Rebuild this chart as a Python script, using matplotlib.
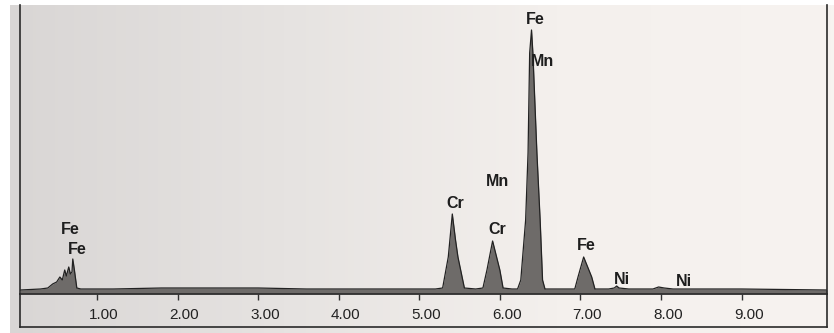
import matplotlib.pyplot as plt
import matplotlib.transforms as mtransforms
from matplotlib.lines import Line2D
from matplotlib.colors import LinearSegmentedColormap
import numpy as np

# spectrum: energy (keV) and height (counts, arbitrary)
energy = [0.05, 0.30, 0.39, 0.45, 0.50, 0.54, 0.57, 0.60, 0.62, 0.65, 0.67, 0.69, 0.70, 0.72, 0.75, 0.80,
          1.20, 1.80, 2.40, 3.00, 3.60, 4.20, 4.80, 5.20,
          5.29, 5.36, 5.38, 5.41, 5.45, 5.48, 5.56, 5.70,
          5.79, 5.84, 5.91, 6.00, 6.04, 6.15,
          6.22, 6.26, 6.32, 6.35, 6.37, 6.393, 6.41, 6.46, 6.50, 6.53, 6.56, 6.70,
          6.93, 6.97, 7.04, 7.14, 7.18, 7.35,
          7.42, 7.45, 7.48, 7.60, 7.90, 7.97, 8.04, 8.15, 9.00, 10.06]
counts = [4, 5, 6, 10, 12, 17, 14, 24, 18, 27, 20, 22, 35, 24, 6, 5,
          5, 6, 6, 6, 5, 5, 5, 5,
          6, 37, 54, 80, 54, 37, 6, 5,
          6, 24, 53, 24, 6, 5,
          5, 14, 74, 141, 241, 264, 241, 141, 74, 14, 5, 5,
          5, 17, 37, 17, 5, 5,
          6, 8, 6, 5, 5, 7, 6, 5, 5, 4]

# peak labels
label_text = ['Fe', 'Fe', 'Cr', 'Cr', 'Mn', 'Fe', 'Mn', 'Fe', 'Ni', 'Ni']
label_x = [0.665, 0.75, 5.45, 5.97, 5.97, 6.44, 6.53, 7.07, 7.51, 8.29]
label_y = [65, 44, 91, 65, 112, 274, 233, 48, 14, 12]

tick_pos = [1, 2, 3, 4, 5, 6, 7, 8, 9]
tick_lab = ['1.00', '2.00', '3.00', '4.00', '5.00', '6.00', '7.00', '8.00', '9.00']

W, H = 834, 333
fig = plt.figure(figsize=(W / 100, H / 100), dpi=100)
fig.patch.set_facecolor('white')

# paper background (photo shading, darker on the left)
bg = fig.add_axes([10 / W, 0, 1 - 10 / W, 1 - 5 / H], zorder=0)
grad = np.linspace(0, 1, 256).reshape(1, -1)
paper = LinearSegmentedColormap.from_list('paper', ['#d9d6d5', '#e6e3e1', '#f4f0ed', '#f7f3f0'])
bg.imshow(grad, aspect='auto', cmap=paper, extent=[0, 1, 0, 1])
bg.set_axis_off()

ax_l, ax_r = 20 / W, 827 / W
ax_b, ax_t = (H - 294) / H, (H - 5) / H
ax = fig.add_axes([ax_l, ax_b, ax_r - ax_l, ax_t - ax_b], zorder=2)
ax.patch.set_alpha(0)

ax.fill_between(energy, counts, color='#6e6b69', lw=0)
ax.plot(energy, counts, color='#222222', lw=0.9)

for t, x, y in zip(label_text, label_x, label_y):
    ax.text(x, y, t, ha='center', va='center', fontsize=11.5, fontweight='bold',
            family='Liberation Sans', color='#1e1e1e')

ax.set_xlim(0.045, 10.06)
ax.set_ylim(0, 289)
ax.set_yticks([])
ax.set_xticks(tick_pos)
ax.set_xticklabels(tick_lab, family='Liberation Sans', fontsize=11, color='#222222')
ax.tick_params(axis='x', direction='out', length=4, width=1, pad=6, color='#333333')
off = mtransforms.ScaledTranslation(7 / 100, 0, fig.dpi_scale_trans)
for lab in ax.get_xticklabels():
    lab.set_transform(lab.get_transform() + off)

ax.spines['top'].set_visible(False)
for s in ['left', 'right', 'bottom']:
    ax.spines[s].set_color('#2a2a2a')
    ax.spines[s].set_linewidth(1.2)

# outer frame continues below the axis line
yb = 6 / H
fig.add_artist(Line2D([ax_l, ax_l], [yb, ax_b], color='#2a2a2a', lw=1.2))
fig.add_artist(Line2D([ax_r, ax_r], [yb, ax_b], color='#2a2a2a', lw=1.2))
fig.add_artist(Line2D([ax_l, ax_r], [yb, yb], color='#2a2a2a', lw=1.2))

fig.savefig('out.png', dpi=100)
